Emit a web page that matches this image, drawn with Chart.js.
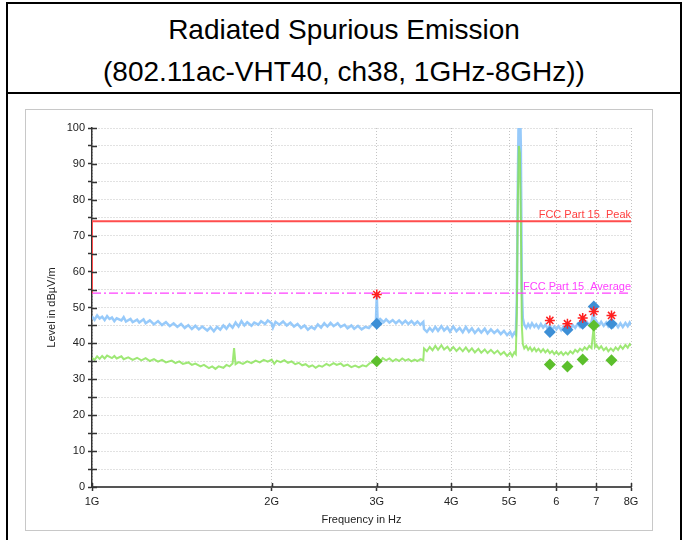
<!DOCTYPE html>
<html>
<head>
<meta charset="utf-8">
<script src="https://cdn.jsdelivr.net/npm/chart.js@4"></script>
<style>
    body { margin: 0; width: 688px; height: 540px; overflow: hidden; background: #fff; font-family: "Liberation Sans", Arial, sans-serif; }
    .frame { position: absolute; left: 6px; top: 2px; width: 672px; height: 560px; border: 2px solid #000; }
    .title { height: 83px; padding-top: 5px; border-bottom: 2px solid #000; text-align: center; font-size: 28px; line-height: 42px; color: #000; }
    .box { position: absolute; left: 25px; top: 109px; width: 626px; height: 420px; border: 1px solid #c8c8c8; background: #fff; }
    #emissionChart { position: absolute; left: 26px; top: 110px; }
</style>
</head>
<body>
<div class="frame">
    <div class="title">Radiated Spurious Emission<br>(802.11ac-VHT40, ch38, 1GHz-8GHz))</div>
</div>
<div class="box"></div>
<canvas id="emissionChart" width="625" height="419"></canvas>
<script>
// Peak trace [GHz, dBuV/m]
const peakTrace = [
    [1.00, 47.5], [1.01, 46.6], [1.02, 47.8], [1.03, 46.9], [1.04, 47.4], [1.05, 46.5], [1.06, 47.6], [1.07, 46.8],
    [1.08, 47.2], [1.09, 46.2], [1.10, 47.0], [1.12, 46.4], [1.13, 47.3], [1.14, 46.1], [1.16, 46.8], [1.17, 45.9],
    [1.19, 46.6], [1.20, 45.8], [1.22, 46.7], [1.23, 45.6], [1.25, 46.4], [1.27, 45.3], [1.29, 46.2], [1.31, 45.1],
    [1.33, 45.9], [1.35, 44.8], [1.37, 45.6], [1.39, 44.6], [1.41, 45.4], [1.43, 44.3], [1.45, 45.1], [1.47, 44.0],
    [1.49, 44.9], [1.51, 43.9], [1.53, 44.7], [1.56, 43.6], [1.58, 44.5], [1.60, 43.4], [1.62, 44.6], [1.64, 43.8],
    [1.66, 45.0], [1.68, 44.1], [1.70, 45.3], [1.72, 44.4], [1.74, 45.8], [1.76, 44.7], [1.78, 46.2], [1.80, 45.0],
    [1.82, 45.9], [1.85, 44.9], [1.87, 45.8], [1.90, 45.2], [1.92, 46.2], [1.95, 45.4], [1.97, 46.4], [2.00, 45.6],
    [2.01, 44.4], [2.03, 46.0], [2.06, 45.2], [2.09, 46.1], [2.12, 45.0], [2.15, 45.8], [2.18, 44.7], [2.21, 45.4],
    [2.24, 44.3], [2.27, 45.0], [2.30, 43.8], [2.33, 44.6], [2.36, 44.0], [2.39, 45.3], [2.42, 44.4], [2.45, 45.6],
    [2.48, 44.7], [2.51, 45.7], [2.54, 44.8], [2.58, 45.6], [2.61, 44.6], [2.65, 45.2], [2.68, 44.2], [2.72, 45.0],
    [2.75, 44.1], [2.79, 44.9], [2.83, 43.9], [2.87, 44.6], [2.91, 44.3], [2.95, 45.4], [2.99, 45.8], [3.00, 53.5],
    [3.01, 46.0], [3.04, 46.8], [3.08, 45.9], [3.11, 46.7], [3.15, 45.8], [3.19, 46.5], [3.23, 45.6], [3.27, 46.4],
    [3.31, 45.5], [3.35, 46.3], [3.39, 45.4], [3.43, 46.2], [3.47, 45.3], [3.51, 46.1], [3.55, 45.2], [3.59, 46.0],
    [3.60, 44.0], [3.64, 43.2], [3.68, 44.3], [3.72, 43.4], [3.76, 44.6], [3.80, 43.5], [3.85, 44.8], [3.89, 43.6],
    [3.94, 44.5], [3.98, 43.3], [4.03, 44.7], [4.08, 43.4], [4.13, 44.3], [4.18, 43.1], [4.23, 44.6], [4.28, 43.2],
    [4.33, 44.2], [4.38, 42.9], [4.44, 44.0], [4.49, 43.0], [4.55, 44.1], [4.60, 42.8], [4.66, 43.9], [4.72, 42.9],
    [4.78, 43.7], [4.84, 42.6], [4.90, 43.5], [4.96, 42.3], [5.02, 43.2], [5.06, 42.0], [5.10, 43.0], [5.13, 42.5],
    [5.15, 52.0], [5.17, 85.0], [5.19, 108.0], [5.21, 110.0], [5.23, 95.0], [5.25, 56.0], [5.27, 47.0], [5.30, 45.2],
    [5.34, 44.3], [5.38, 45.4], [5.42, 44.5], [5.46, 45.6], [5.51, 44.6], [5.55, 45.3], [5.60, 44.3], [5.65, 45.4],
    [5.70, 44.4], [5.75, 45.2], [5.80, 44.1], [5.85, 44.9], [5.90, 43.8], [5.95, 44.7], [6.00, 43.9], [6.05, 44.8],
    [6.11, 43.7], [6.16, 44.6], [6.22, 43.8], [6.27, 44.9], [6.33, 44.0], [6.39, 45.1], [6.45, 44.3], [6.51, 45.4],
    [6.57, 44.6], [6.63, 45.7], [6.69, 44.9], [6.75, 45.9], [6.81, 45.0], [6.87, 46.1], [6.93, 49.0], [6.96, 45.4],
    [7.00, 46.2], [7.07, 45.0], [7.13, 46.0], [7.20, 44.9], [7.27, 45.8], [7.33, 44.7], [7.40, 45.6], [7.47, 44.6],
    [7.54, 45.5], [7.61, 44.5], [7.68, 45.6], [7.75, 44.6], [7.83, 45.7], [7.90, 44.8], [7.96, 45.8], [8.00, 45.2]
];

// Average trace [GHz, dBuV/m]
const avgTrace = [
    [1.00, 36.0], [1.01, 35.4], [1.02, 36.4], [1.03, 35.7], [1.04, 36.5], [1.05, 35.8], [1.06, 36.6], [1.08, 35.9],
    [1.09, 36.5], [1.10, 35.8], [1.12, 36.4], [1.13, 35.6], [1.15, 36.1], [1.17, 35.4], [1.19, 36.0], [1.21, 35.3],
    [1.23, 35.9], [1.25, 35.1], [1.27, 35.6], [1.29, 34.9], [1.31, 35.4], [1.33, 34.7], [1.36, 35.2], [1.38, 34.5],
    [1.40, 35.0], [1.42, 34.3], [1.45, 34.7], [1.47, 34.0], [1.49, 34.4], [1.52, 33.6], [1.54, 34.0], [1.57, 33.1],
    [1.59, 33.6], [1.61, 32.9], [1.63, 33.6], [1.66, 33.2], [1.68, 34.0], [1.70, 33.6], [1.72, 34.4], [1.73, 38.7],
    [1.74, 34.2], [1.76, 34.8], [1.79, 34.3], [1.82, 35.0], [1.85, 34.5], [1.88, 35.2], [1.91, 34.7], [1.94, 35.4],
    [1.97, 34.9], [2.00, 35.5], [2.02, 34.3], [2.04, 35.2], [2.07, 34.8], [2.10, 35.3], [2.13, 34.6], [2.16, 35.0],
    [2.19, 34.2], [2.22, 34.6], [2.25, 33.9], [2.28, 34.2], [2.31, 33.5], [2.34, 33.9], [2.37, 33.2], [2.40, 33.8],
    [2.43, 33.5], [2.47, 34.3], [2.50, 33.8], [2.54, 34.5], [2.57, 34.0], [2.61, 34.4], [2.64, 33.7], [2.68, 34.1],
    [2.72, 33.4], [2.76, 33.8], [2.80, 33.3], [2.84, 33.9], [2.88, 33.6], [2.92, 34.5], [2.96, 34.7], [3.00, 35.3],
    [3.04, 35.0], [3.07, 35.9], [3.11, 35.3], [3.15, 35.8], [3.19, 35.0], [3.23, 35.6], [3.27, 35.1], [3.31, 35.8],
    [3.35, 35.2], [3.39, 35.6], [3.43, 35.0], [3.47, 35.5], [3.51, 35.1], [3.55, 35.6], [3.59, 35.3], [3.60, 38.6],
    [3.64, 37.8], [3.68, 39.0], [3.72, 38.1], [3.76, 39.3], [3.80, 38.2], [3.85, 39.5], [3.89, 38.3], [3.94, 39.1],
    [3.98, 38.0], [4.03, 39.0], [4.08, 37.9], [4.13, 38.8], [4.18, 37.8], [4.23, 38.9], [4.28, 37.7], [4.33, 38.6],
    [4.38, 37.5], [4.44, 38.5], [4.49, 37.4], [4.55, 38.3], [4.60, 37.3], [4.66, 38.2], [4.72, 37.2], [4.78, 38.0],
    [4.84, 36.9], [4.90, 37.6], [4.96, 36.5], [5.02, 37.4], [5.06, 36.4], [5.10, 37.5], [5.13, 37.0], [5.15, 48.0],
    [5.17, 80.0], [5.19, 95.0], [5.21, 93.0], [5.23, 75.0], [5.25, 45.0], [5.27, 39.8], [5.30, 38.6], [5.34, 39.3],
    [5.38, 38.2], [5.42, 38.9], [5.46, 37.9], [5.51, 38.7], [5.55, 37.8], [5.60, 38.5], [5.65, 37.6], [5.70, 38.4],
    [5.75, 37.5], [5.80, 38.2], [5.85, 37.3], [5.90, 37.9], [5.95, 37.0], [6.00, 37.7], [6.05, 36.9], [6.11, 37.6],
    [6.16, 36.8], [6.22, 37.5], [6.27, 36.9], [6.33, 37.8], [6.39, 37.2], [6.45, 38.2], [6.51, 37.6], [6.57, 38.5],
    [6.63, 38.0], [6.69, 38.9], [6.75, 38.3], [6.81, 39.3], [6.87, 38.7], [6.93, 45.0], [6.96, 39.0], [7.00, 39.6],
    [7.07, 38.5], [7.13, 39.2], [7.20, 38.1], [7.27, 38.8], [7.33, 37.8], [7.40, 38.6], [7.47, 37.9], [7.54, 38.9],
    [7.61, 38.2], [7.68, 39.3], [7.75, 38.5], [7.83, 39.6], [7.90, 38.8], [7.96, 39.8], [8.00, 39.4]
];

// Final measurement points
const finalFreqGHz = [3.00, 5.85, 6.26, 6.64, 6.93, 7.42];
const peakStar = [53.6, 46.4, 45.5, 47.1, 48.9, 47.8];
const peakDiamond = [45.5, 43.2, 43.8, 45.5, 50.3, 45.5];
const avgDiamond = [35.0, 34.1, 33.6, 35.5, 45.0, 35.3];

// Limit lines
const peakLimit = [[1, 54], [1, 74], [8, 74]];
const avgLimit = [[1, 54], [8, 54]];

// Axis ticks
const xTickGHz = [1, 2, 3, 4, 5, 6, 7, 8];
const xTickLabels = ['1G', '2G', '3G', '4G', '5G', '6', '7', '8G'];

const GHz = 1e9;
const toXY = arr => arr.map(p => ({ x: p[0] * GHz, y: p[1] }));
const markers = vals => finalFreqGHz.map((f, i) => ({ x: f * GHz, y: vals[i] }));

// Tick stubs inside the plot and limit line captions
const extras = {
    id: 'extras',
    afterDatasetsDraw(chart) {
        const { ctx, chartArea, scales } = chart;
        const xs = scales.x, ys = scales.y;
        ctx.save();
        ctx.strokeStyle = '#333';
        ctx.lineWidth = 1.5;
        ctx.beginPath();
        ys.ticks.forEach(t => {
            const y = Math.round(ys.getPixelForValue(t.value)) + 0.5;
            ctx.moveTo(chartArea.left, y);
            ctx.lineTo(chartArea.left + 5, y);
        });
        xs.ticks.forEach(t => {
            const x = Math.round(xs.getPixelForValue(t.value)) + 0.5;
            ctx.moveTo(x, chartArea.bottom);
            ctx.lineTo(x, chartArea.bottom - 4);
        });
        ctx.stroke();

        ctx.font = '11px "Liberation Sans", Arial, sans-serif';
        ctx.textAlign = 'right';
        ctx.textBaseline = 'bottom';
        ctx.fillStyle = '#ff4040';
        ctx.fillText('FCC Part 15  Peak', chartArea.right, ys.getPixelForValue(74) - 1);
        ctx.fillStyle = '#ff40ff';
        ctx.fillText('FCC Part 15  Average', chartArea.right, ys.getPixelForValue(54) - 1);
        ctx.restore();
    }
};

// first dataset is drawn on top
const ctx = document.getElementById('emissionChart').getContext('2d');
new Chart(ctx, {
    type: 'scatter',
    data: {
        datasets: [
            { data: markers(peakStar), pointStyle: 'star', pointRadius: 5, borderColor: '#ff2020', borderWidth: 1.5 },
            { data: markers(peakDiamond), pointStyle: 'rectRot', pointRadius: 6, backgroundColor: '#3d8fd6', borderWidth: 0 },
            { data: markers(avgDiamond), pointStyle: 'rectRot', pointRadius: 6, backgroundColor: '#5cbf2c', borderWidth: 0 },
            { data: toXY(peakLimit), showLine: true, borderColor: '#ff4d4d', borderWidth: 2, pointRadius: 0, clip: 0 },
            { data: toXY(avgLimit), showLine: true, borderColor: '#ff40ff', borderWidth: 1.2, borderDash: [9, 3, 2, 3], pointRadius: 0, clip: 0 },
            { data: toXY(avgTrace), showLine: true, borderColor: 'rgba(134,226,82,0.8)', borderWidth: 2, pointRadius: 0, clip: 0 },
            { data: toXY(peakTrace), showLine: true, borderColor: 'rgba(140,196,250,0.9)', borderWidth: 2.5, pointRadius: 0, clip: 0 }
        ]
    },
    options: {
        responsive: false,
        animation: false,
        layout: { padding: { left: 0, top: 18, right: 20, bottom: 0 } },
        plugins: { legend: { display: false }, tooltip: { enabled: false } },
        elements: { line: { tension: 0 } },
        scales: {
            x: {
                type: 'logarithmic',
                min: 1 * GHz,
                max: 8 * GHz,
                afterBuildTicks: s => { s.ticks = xTickGHz.map(v => ({ value: v * GHz })); },
                afterFit: s => { s.height = 42; s.paddingLeft = 0; s.paddingRight = 0; },
                ticks: {
                    autoSkip: false, maxRotation: 0, padding: 4, color: '#222',
                    font: { family: '"Liberation Sans", Arial, sans-serif', size: 11 },
                    callback: (v, i) => xTickLabels[i]
                },
                grid: { color: '#c4c4c4', tickColor: '#333', tickLength: 4, tickWidth: 1.5 },
                border: { color: '#555', width: 2, dash: [1, 2] },
                title: {
                    display: true, text: 'Frequency in Hz', color: '#222', padding: { top: 2, bottom: 2 },
                    font: { family: '"Liberation Sans", Arial, sans-serif', size: 11 }
                }
            },
            y: {
                min: 0,
                max: 100,
                afterFit: s => { s.width = 66; s.paddingTop = 0; s.paddingBottom = 0; },
                ticks: {
                    stepSize: 5, padding: 3, color: '#222',
                    font: { family: '"Liberation Sans", Arial, sans-serif', size: 11 },
                    callback: v => (v % 10 === 0 ? v : '')
                },
                grid: { color: '#c4c4c4', tickColor: '#333', tickLength: 4, tickWidth: 1.5 },
                border: { color: '#333', width: 1.5, dash: [1, 2] },
                title: {
                    display: true, text: 'Level in dBµV/m', color: '#222', padding: { top: 19, bottom: 4 },
                    font: { family: '"Liberation Sans", Arial, sans-serif', size: 11 }
                }
            }
        }
    },
    plugins: [extras]
});
</script>
</body>
</html>
